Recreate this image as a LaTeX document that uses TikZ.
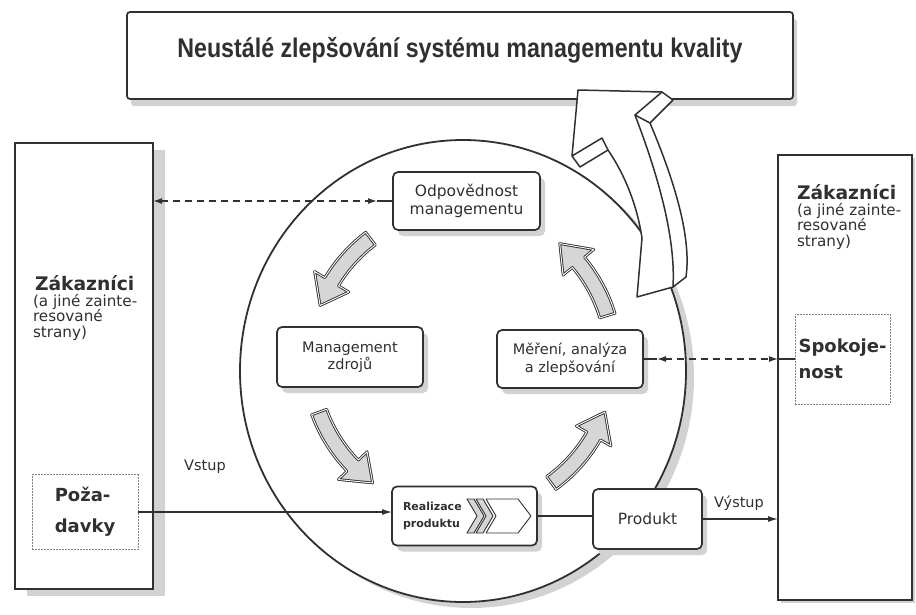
\documentclass[tikz,border=0pt]{standalone}
\usepackage{fontspec}
\setmainfont{DejaVu Sans}
\newfontfamily\headfont[FakeStretch=0.86]{Liberation Sans}
\usetikzlibrary{arrows.meta,shadows,shapes.geometric}
\definecolor{ink}{HTML}{303030}
\definecolor{shade}{HTML}{D2D2D2}
\definecolor{cycfill}{HTML}{D6D6D6}

% curved block arrow of the PDCA cycle: #1 tail angle, #2 tip angle
\newcommand\cyclearrow[2]{%
  \draw[cyc,shift={(462,360)}] (#1:160) arc[start angle=#1,end angle=#2+10,radius=160]
    -- ({#2+10}:172) -- (#2:152) -- ({#2+10}:132) -- ({#2+10}:144)
    arc[start angle=#2+10,end angle=#1,radius=144] -- cycle;}

\begin{document}
\begin{tikzpicture}[x=1pt,y=-1pt,
  every node/.style={inner sep=0pt,outer sep=0pt,text=ink},
  frame/.style={draw=ink,line width=1.7pt,fill=white},
  procbox/.style={draw=ink,line width=1.7pt,fill=white,rounded corners=5pt,align=center,
    font=\fontsize{14.5}{17.5}\selectfont,
    drop shadow={shadow xshift=5pt,shadow yshift=-6pt,fill=shade,opacity=1}},
  subbox/.style={draw=ink!60,line width=0.8pt,dash pattern=on 2pt off 1pt,fill=white,align=left},
  cyc/.style={draw=ink,line width=0.9pt,double=white,double distance=0.9pt,fill=cycfill,line join=round},
  glyph/.style={draw=ink,line width=0.9pt,line join=round},
  bigarrow/.style={draw=ink,line width=1.5pt,line join=round},
  link/.style={draw=ink,line width=1.3pt},
  flow/.style={link,-{Latex[length=10pt,width=6pt]}},
  feedback/.style={link,dash pattern=on 7pt off 5pt,
    {Latex[length=9pt,width=6pt]}-{Latex[length=9pt,width=6pt]}},
  label/.style={font=\fontsize{14.5}{17}\selectfont},
  custtitle/.style={font=\bfseries\fontsize{18.7}{22}\selectfont,anchor=west},
  custnote/.style={font=\fontsize{15.2}{15.5}\selectfont,align=left,anchor=north west}
]
\useasboundingbox (0,0) rectangle (916,614);

% customers and other interested parties
\node[frame,minimum width=138pt,minimum height=446pt,
      drop shadow={shadow xshift=12pt,shadow yshift=-7pt,fill=shade,opacity=1}] (lcust) at (84,366) {};
\node[frame,minimum width=134pt,minimum height=445pt,
      drop shadow={shadow xshift=3pt,shadow yshift=-3pt,fill=shade,opacity=1}] (rcust) at (845,377.5) {};

% the quality management system
\node[ellipse,draw=ink,line width=1.8pt,fill=white,minimum width=446pt,minimum height=462pt,
      drop shadow={shadow xshift=8pt,shadow yshift=-6pt,fill=shade,opacity=1}] (qms) at (463,371) {};

% cycle arrows
\cyclearrow{-127}{-159}
\cyclearrow{160}{126}
\cyclearrow{54}{20}
\cyclearrow{-17}{-50}

% processes
\node[procbox,minimum width=147pt,minimum height=58pt,font=\fontsize{15.5}{18.5}\selectfont] (resp) at (466.5,201) {Odpovědnost\\managementu};
\node[procbox,minimum width=146pt,minimum height=60pt] (res) at (350,357) {Management\\zdrojů};
\node[procbox,minimum width=146pt,minimum height=58pt] (meas) at (570,359) {Měření, analýza\\a zlepšování};
\node[procbox,minimum width=145pt,minimum height=59pt] (real) at (464.5,516) {};
\node[font=\bfseries\fontsize{11}{17}\selectfont,align=left,anchor=west] (realtext) at (403,516) {Realizace\\produktu};
\node[procbox,minimum width=109pt,minimum height=60pt,font=\fontsize{15.5}{18}\selectfont] (prod) at (647.5,519) {Produkt};

% chevron glyph of product realization
\filldraw[glyph,fill=cycfill] (467,499) -- (474,499) -- (484,516) -- (474,533) -- (467,533) -- (477,516) -- cycle;
\filldraw[glyph,fill=cycfill] (476,499) -- (483,499) -- (493,516) -- (483,533) -- (476,533) -- (486,516) -- cycle;
\filldraw[glyph,fill=white] (486,499) -- (518,499) -- (531,516) -- (518,533) -- (486,533) -- (496,516) -- cycle;

% requirements and satisfaction
\node[subbox,minimum width=106pt,minimum height=75pt,font=\bfseries\fontsize{18}{31}\selectfont] (req) at (85,512) {Poža-\\davky};
\node[subbox,minimum width=95pt,minimum height=90pt,font=\bfseries\fontsize{18}{26}\selectfont] (sat) at (842.5,359) {Spokoje-\\nost};

\node[custtitle] (ltitle) at (35,283) {Zákazníci};
\node[custnote] (lnote) at (33,294) {(a jiné zainte-\\resované\\strany)};
\node[custtitle] (rtitle) at (797,192) {Zákazníci};
\node[custnote] (rnote) at (797,203) {(a jiné zainte-\\resované\\strany)};

% product flow
\draw[flow] (req.east) -- (req.east -| real.west);
\draw[link] (real.east) -- (real.east -| prod.west);
\draw[flow] (prod.east) -- (prod.east -| rcust.west);
\node[label] (inlabel) at (205,467) {Vstup};
\node[label] (outlabel) at (739,503) {Výstup};

% information flow
\coordinate (respfoot) at ([xshift=-16pt]resp.west);
\draw[feedback] (resp.west -| lcust.east) -- (respfoot);
\draw[link] (respfoot) -- (resp.west);
\coordinate (measfoot) at ([xshift=14pt]meas.east);
\draw[link] (meas.east) -- (measfoot);
\draw[feedback] (measfoot) -- (meas.east -| rcust.west);
\draw[link] (meas.east -| rcust.west) -- (sat.west);

% continual improvement
\node[frame,rounded corners=3pt,minimum width=666pt,minimum height=87pt,
      drop shadow={shadow xshift=4pt,shadow yshift=-7pt,fill=shade,opacity=1}] (goal) at (460,55.5) {};
\node[font=\headfont\bfseries\fontsize{27}{30}\selectfont] (goaltext) at (460,50) {Neustálé zlepšování systému managementu kvality};

% broad arrow rising out of the cycle
\filldraw[bigarrow,fill=white] (578,90) -- (662,92) -- (673,100) -- (650,123)
   .. controls (672,175) and (692,235) .. (686,277) -- (673,287) -- (637,297)
   -- (642,238) .. controls (637,205) and (625,175) .. (608,150)
   -- (580,167) -- (572,156) -- cycle;
\draw[bigarrow] (662,92) -- (635,115) -- (650,123);
\draw[bigarrow] (635,115) .. controls (656,170) and (676,235) .. (673,287);
\draw[bigarrow] (572,156) -- (602,138) -- (608,150);
\end{tikzpicture}
\end{document}
